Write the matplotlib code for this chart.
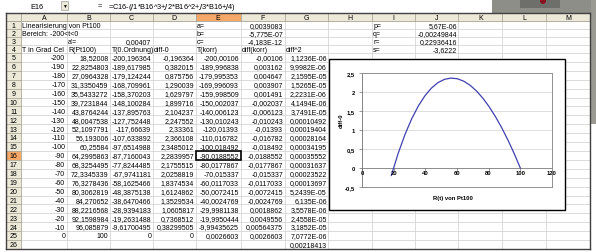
import matplotlib
matplotlib.use("Agg")
import matplotlib.pyplot as plt
from matplotlib.patches import Rectangle, Circle

plt.rcParams['font.family'] = ['Liberation Sans', 'DejaVu Sans']

# ---------------- data ----------------
temps = [-200, -190, -180, -170, -160, -150, -140, -130, -120, -110, -100,
         -90, -80, -70, -60, -50, -40, -30, -20, -10, 0]
r_pt100 = [18.52008, 22.8254803, 27.0964328, 31.3350459, 35.5433272, 39.7231844,
           43.8764244, 48.0047538, 52.1097791, 56.193006, 60.25584, 64.2995863,
           68.3254495, 72.3345339, 76.3278436, 80.3062819, 84.270652, 88.2216568,
           92.1598984, 96.085879, 100]
t_order0 = [-200.196364, -189.617985, -179.124244, -168.709961, -158.370203,
            -148.100284, -137.895763, -127.752448, -117.66639, -107.633892,
            -97.6514988, -87.7160043, -77.8244485, -67.9741181, -58.1625466,
            -48.3875138, -38.6470466, -28.9394183, -19.2631488, -9.61700495, 0]
diff0 = [-0.196364, 0.382015, 0.875756, 1.290039, 1.629797, 1.899716, 2.104237,
         2.247552, 2.33361, 2.366108, 2.3485012, 2.2839957, 2.1755515, 2.0258819,
         1.8374534, 1.6124862, 1.3529534, 1.0605817, 0.7368512, 0.38299505, 0]
t_korr = [-200.00106, -189.996838, -179.995353, -169.996093, -159.998509,
          -150.002037, -140.006123, -130.010243, -120.01393, -110.016782,
          -100.018492, -90.0188552, -80.0177867, -70.015337, -60.0117033,
          -50.0072415, -40.0024769, -29.9981138, -19.9950444, -9.99435625, 0.0026603]
diff_korr = [-0.00106, 0.003162, 0.004647, 0.003907, 0.001491, -0.002037,
             -0.006123, -0.010243, -0.01393, -0.016782, -0.018492, -0.0188552,
             -0.0177867, -0.015337, -0.0117033, -0.0072415, -0.0024769, 0.0018862,
             0.0049556, 0.00564375, 0.0026603]
diff_sq = [1.1236e-06, 9.9982e-06, 2.1595e-05, 1.5265e-05, 2.2231e-06, 4.1494e-06,
           3.7491e-05, 0.00010492, 0.00019404, 0.00028164, 0.00034195, 0.00035552,
           0.00031637, 0.00023522, 0.00013697, 5.2439e-05, 6.135e-06, 3.5578e-06,
           2.4558e-05, 3.1852e-05, 7.0772e-06, 0.00218413]

col_letters = ["A", "B", "C", "D", "E", "F", "G", "H", "I", "J", "K", "L", "M"]
coef_left_labels = ["a=", "b=", "c="]
coef_left_vals = [0.0039083, -5.775e-07, -4.183e-12]
coef_right_labels = ["p=", "q=", "r=", "s="]
coef_right_vals = [5.67e-06, -0.00249844, 0.22936416, -3.6222]
a_prime_label = "a'="
a_prime_val = 0.00407
row4_headers = ["T in Grad Cel", "R(Pt100)", "T(0.Ordnung)", "diff-0",
                "T(korr)", "diff(korr)", "diff^2"]
title_text = "Linearisierung von Pt100"
range_text = "Bereich: -200<t<0"
cell_name = "E16"
formula = "=C16-($J$1*B16^3+$J$2*B16^2+$J$3*B16+$J$4)"

x_ticks = [0, 20, 40, 60, 80, 100, 120]
y_ticks = [-0.5, 0, 0.5, 1, 1.5, 2, 2.5]


def xl(v):
    return format(v, '.10g').replace('.', ',').replace('e', 'E')


# ---------------- layout (pixels) ----------------
W, H = 596, 253
fig = plt.figure(figsize=(W / 100, H / 100), dpi=100)
bg = fig.add_axes([0, 0, 1, 1])
bg.set_xlim(0, W)
bg.set_ylim(H, 0)
bg.axis('off')

edges = [21, 66.7, 110, 152.7, 195.5, 240.5, 284.5, 328.3, 371.7, 415, 458.3, 502.3, 546, 590]
left_edge = 5.5
hdr_top, hdr_bot = 13.8, 22
nrows = 26
top_rh = 8.0
split = hdr_bot + 4 * top_rh
bottom = 250
body_rh = (bottom - split) / 22
FS = 5.0
hdr_col = '#ECE9D8'
hdr_line = '#ACA899'
grid_col = '#D6D6D6'
sel_col = '#F7A868'

def row_top(r):
    if r <= 4:
        return hdr_bot + (r - 1) * top_rh
    return split + (r - 5) * body_rh

def row_h(r):
    return top_rh if r <= 4 else body_rh

def row_mid(r):
    return row_top(r) + row_h(r) / 2

# photo in background (top-right)
bg.add_patch(Rectangle((492, 0), 104, 13.8, color='#8E8E88', lw=0, zorder=0))
bg.add_patch(Rectangle((590.5, 0), 6, 125, color='#9A9A92', lw=0, zorder=0))
bg.add_patch(Rectangle((520, 0), 40, 9, color='#6E6E6A', lw=0, zorder=0))
bg.add_patch(Circle((543, 2), 3, color='#8A1020', lw=0, zorder=1))

# formula bar
bg.text(30, 7, cell_name, fontsize=FS + 0.3, va='center', ha='left')
bg.add_patch(Rectangle((61, 2), 7, 9, facecolor='#ECE9D8', edgecolor='#999999', lw=0.5))
bg.text(64.5, 6.8, u'\u25BC', fontsize=3.5, va='center', ha='center')
bg.text(100, 7, "=", fontsize=FS + 0.3, va='center', ha='center')
bg.text(108, 7, formula, fontsize=FS + 0.3, va='center', ha='left')

# header row background
bg.add_patch(Rectangle((left_edge, hdr_top), edges[-1] - left_edge, hdr_bot - hdr_top,
                       facecolor=hdr_col, edgecolor='none', zorder=1))
bg.add_patch(Rectangle((edges[4], hdr_top), edges[5] - edges[4], hdr_bot - hdr_top,
                       facecolor=sel_col, edgecolor='none', zorder=1))
# row number column
bg.add_patch(Rectangle((left_edge, hdr_bot), edges[0] - left_edge, bottom - hdr_bot,
                       facecolor=hdr_col, edgecolor='none', zorder=1))
bg.add_patch(Rectangle((left_edge, row_top(16)), edges[0] - left_edge, row_h(16),
                       facecolor=sel_col, edgecolor='none', zorder=1))

# grid lines
for r in range(1, nrows + 1):
    y = row_top(r)
    bg.plot([edges[0], edges[-1]], [y, y], color=grid_col, lw=0.6, zorder=1)
    bg.plot([left_edge, edges[0]], [y, y], color=hdr_line, lw=0.6, zorder=2)
for x in edges[1:-1]:
    bg.plot([x, x], [hdr_bot, bottom], color=grid_col, lw=0.6, zorder=1)
for x in edges:
    bg.plot([x, x], [hdr_top, hdr_bot], color=hdr_line, lw=0.6, zorder=2)
bg.plot([edges[0], edges[0]], [hdr_bot, bottom], color=hdr_line, lw=0.6, zorder=2)
bg.plot([left_edge, edges[-1]], [hdr_bot, hdr_bot], color=hdr_line, lw=0.6, zorder=2)
# outer frame
bg.plot([left_edge, edges[-1]], [hdr_top, hdr_top], color='#404040', lw=1.0, zorder=3)
bg.plot([left_edge, left_edge], [hdr_top, bottom], color='#404040', lw=1.0, zorder=3)
bg.plot([edges[-1], edges[-1]], [hdr_top, bottom], color='#404040', lw=1.0, zorder=3)
bg.plot([left_edge, edges[-1]], [bottom, bottom], color='#404040', lw=1.0, zorder=3)

# column letters & row numbers
for i, c in enumerate(col_letters):
    bg.text((edges[i] + edges[i + 1]) / 2, (hdr_top + hdr_bot) / 2 + 0.3, c,
            fontsize=FS, ha='center', va='center', zorder=4)
for r in range(1, nrows + 1):
    bg.text((left_edge + edges[0]) / 2 + 0.5, row_mid(r) + 0.3, str(r),
            fontsize=FS, ha='center', va='center', zorder=4)


def put(col, r, s, align):
    if align == 'left':
        x = edges[col] + 1.5
    else:
        x = edges[col + 1] - 1.5
    bg.text(x, row_mid(r) + 0.3, s, fontsize=FS, ha=align, va='center', zorder=4)


# rows 1-4
put(0, 1, title_text, 'left')
put(0, 2, range_text, 'left')
put(1, 3, a_prime_label, 'left')
put(2, 3, xl(a_prime_val), 'right')
for i in range(3):
    put(4, i + 1, coef_left_labels[i], 'left')
    put(5, i + 1, xl(coef_left_vals[i]), 'right')
for i in range(4):
    put(8, i + 1, coef_right_labels[i], 'left')
    put(9, i + 1, xl(coef_right_vals[i]), 'right')
for j, s in enumerate(row4_headers):
    put(j, 4, s, 'left')

# table body
for k in range(len(temps)):
    r = 5 + k
    put(0, r, xl(temps[k]), 'right')
    put(1, r, xl(r_pt100[k]), 'right')
    put(2, r, xl(t_order0[k]), 'right')
    put(3, r, xl(diff0[k]), 'right')
    put(4, r, xl(t_korr[k]), 'right')
    put(5, r, xl(diff_korr[k]), 'right')
for k, v in enumerate(diff_sq):
    put(6, 5 + k, xl(v), 'right')

# selected cell E16
bg.add_patch(Rectangle((edges[4], row_top(16)), edges[5] - edges[4], row_h(16),
                       facecolor='none', edgecolor='black', lw=1.2, zorder=5))

# ---------------- chart ----------------
cx0, cy0, cx1, cy1 = 329, 60, 565, 211
bg.add_patch(Rectangle((cx0, cy0), cx1 - cx0, cy1 - cy0, facecolor='white',
                       edgecolor='black', lw=1.0, zorder=6))
px0, py0, px1, py1 = 362, 74, 552, 188
ax = fig.add_axes([px0 / W, 1 - py1 / H, (px1 - px0) / W, (py1 - py0) / H], zorder=10)
ax.set_facecolor('white')
ax.plot(r_pt100, diff0, color='#4040B0', lw=0.9, zorder=3)
ax.set_xlim(0, 120)
ax.set_ylim(-0.5, 2.5)
ax.set_yticks(y_ticks)
ax.set_yticklabels([xl(v) for v in y_ticks], fontsize=4.2, fontweight='bold')
for yv in y_ticks[1:]:
    ax.axhline(yv, color='#D0D0D0', lw=0.5, zorder=1)
for s in ['top', 'right', 'bottom']:
    ax.spines[s].set_color('#909090')
    ax.spines[s].set_linewidth(0.7)
ax.spines['left'].set_color('#707070')
ax.spines['left'].set_linewidth(0.6)
ax.axhline(0, color='#808080', lw=0.6, zorder=2)
ax.tick_params(axis='y', length=2, width=0.5, pad=3, color='#707070')
# x axis crosses at y = 0; its labels sit under that line
ax.set_xticks(x_ticks)
ax.set_xticklabels([])
ax.xaxis.set_ticks_position('none')
for xv in x_ticks:
    ax.text(xv, -0.06, xl(xv), fontsize=4.2, fontweight='bold', ha='center', va='top',
            transform=ax.transData, zorder=4)
    ax.plot([xv, xv], [0, -0.05], color='#707070', lw=0.5, clip_on=False)
bg.text(341.5, 121, "diff-0", fontsize=4.2, fontweight='bold', rotation=90,
        ha='center', va='center', zorder=7)
bg.text(453, 199, "R(t) von Pt100", fontsize=4.2, fontweight='bold',
        ha='center', va='center', zorder=7)

fig.savefig("out.png", dpi=100)
